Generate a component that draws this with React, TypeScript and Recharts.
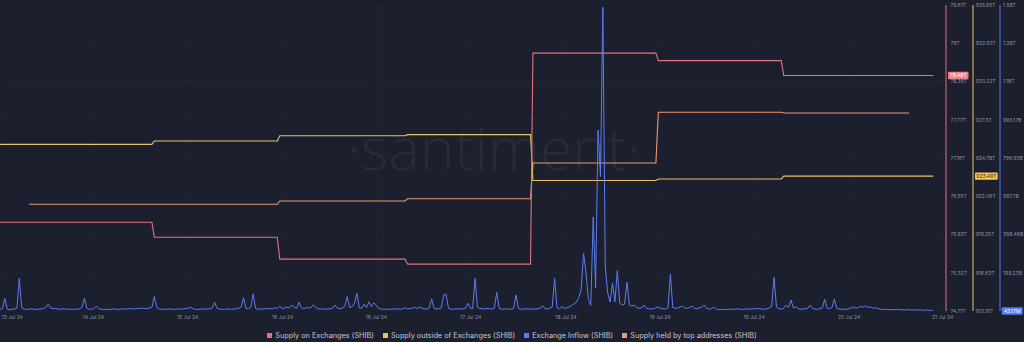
import React from 'react';
import { LineChart, Line, XAxis, YAxis, CartesianGrid, Legend, ReferenceLine } from 'recharts';

// ---------- data ----------
const X_TICK_LABELS = ['13 Jul 24', '14 Jul 24', '15 Jul 24', '16 Jul 24', '16 Jul 24', '17 Jul 24', '18 Jul 24', '19 Jul 24', '19 Jul 24', '20 Jul 24', '21 Jul 24'];
const X_TICKS = [0, 38.7, 77.8, 117.2, 156.1, 195.2, 234.7, 273.7, 312.7, 352.1, 390.9];
const X_MAX = 392.3;

const ON_EX_TICK_LABELS = ['74.71T', '75.32T', '75.93T', '76.55T', '77.16T', '77.77T', '78.39T', '79T', '79.61T'];
const ON_EX_DOMAIN = [74.71, 79.61];
const OUTSIDE_TICK_LABELS = ['913.91T', '916.63T', '919.35T', '922.06T', '924.78T', '927.5T', '930.22T', '932.93T', '935.65T'];
const OUTSIDE_DOMAIN = [913.91, 935.65];
const INFLOW_TICK_LABELS = ['', '199.23B', '398.46B', '597.7B', '796.93B', '995.17B', '1.18T', '1.38T', '1.58T'];
const INFLOW_DOMAIN = [0, 1594];
const TOP_DOMAIN = [500, 530.6];

// step series: first sample index of each level
const STEP_STARTS = [0, 64, 116, 169, 221, 273, 325];
const SUPPLY_ON_EXCHANGES = [76.13, 75.89, 75.54, 75.46, 78.84, 78.72, 78.48];
const SUPPLY_OUTSIDE = [925.75, 925.99, 926.36, 926.44, 923.18, 923.29, 923.49];
const TOP_STARTS = [12, 116, 169, 221, 273, 325];
const TOP_HOLDERS = [510.67, 511.0, 511.23, 514.8, 519.87, 519.8];
const TOP_END = 377;

// exchange inflow, billions SHIB
const EXCHANGE_INFLOW = [
  8, 12, 66, 10, 7, 9, 11, 14, 170, 16, 10, 8, 9, 12, 10, 8, 9, 11, 13, 18,
  35, 16, 12, 14, 10, 9, 12, 11, 8, 10, 9, 8, 10, 12, 18, 66, 14, 9, 10, 13,
  26, 12, 9, 8, 10, 7, 9, 11, 10, 8, 9, 12, 10, 11, 13, 12, 10, 14, 12, 16,
  13, 12, 15, 20, 75, 18, 10, 9, 8, 10, 12, 9, 8, 10, 9, 11, 10, 12, 14, 19,
  12, 9, 8, 10, 9, 11, 10, 12, 16, 45, 14, 10, 9, 8, 10, 11, 9, 10, 12, 14,
  20, 69, 14, 12, 18, 89, 12, 10, 11, 9, 12, 14, 10, 13, 16, 14, 26, 12, 15, 20,
  16, 31, 18, 14, 45, 16, 12, 18, 14, 20, 32, 18, 12, 10, 11, 9, 10, 12, 15, 31,
  14, 12, 16, 24, 75, 18, 22, 40, 92, 16, 14, 35, 18, 48, 22, 43, 30, 14, 10, 9,
  10, 8, 9, 11, 10, 12, 9, 11, 17, 10, 12, 14, 20, 12, 22, 14, 12, 10, 16, 63,
  14, 10, 12, 16, 83, 87, 14, 10, 9, 11, 10, 12, 10, 14, 40, 16, 12, 170, 18, 14,
  12, 10, 14, 12, 10, 16, 97, 14, 10, 9, 12, 10, 9, 14, 83, 12, 9, 10, 12, 10,
  9, 11, 10, 12, 14, 28, 12, 10, 14, 20, 170, 16, 12, 23, 14, 16, 21, 28, 36, 45,
  70, 110, 302, 200, 60, 30, 490, 120, 943, 700, 1582, 230, 94, 47, 146, 47, 210, 42, 31, 36,
  150, 31, 26, 31, 18, 14, 16, 31, 14, 12, 10, 12, 16, 22, 14, 12, 10, 16, 193, 18,
  14, 16, 20, 25, 16, 14, 18, 26, 14, 12, 16, 20, 31, 14, 10, 12, 20, 10, 8, 9,
  7, 8, 10, 9, 8, 10, 12, 9, 8, 10, 11, 9, 12, 10, 14, 12, 10, 9, 12, 16,
  22, 176, 20, 12, 10, 14, 31, 18, 57, 16, 22, 12, 10, 9, 12, 14, 31, 12, 10, 9,
  12, 16, 61, 14, 12, 18, 63, 14, 10, 9, 8, 10, 12, 16, 22, 14, 18, 24, 20, 26,
  18, 22, 14, 18, 12, 10, 8, 9, 7, 8, 6, 7, 8, 6, 7, 5, 6, 7, 5, 6,
  5, 6, 5, 4, 5, 4, 3, 0.04317,
];

const LEGEND_NAMES = ['Supply on Exchanges (SHIB)', 'Supply outside of Exchanges (SHIB)', 'Exchange Inflow (SHIB)', 'Supply held by top addresses (SHIB)'];

// ---------- styles ----------
const BG = '#1c1f2e';
const RED = '#e5737e';
const YELLOW = '#e9c466';
const BLUE = '#5b7cf2';
const ORANGE = '#ec9a72';
const LEGEND_COLORS = [RED, YELLOW, BLUE, ORANGE];
const TICK_COLOR = '#8e92a4';
const FONT = 'Inter, "Noto Sans", sans-serif';

const levelAt = (starts: number[], levels: number[], j: number) => {
  let v = levels[0];
  for (let k = 0; k < starts.length; k++) if (j >= starts[k]) v = levels[k];
  return v;
};

const rows = EXCHANGE_INFLOW.map((v, j) => ({
  t: j,
  inflow: v,
  onEx: levelAt(STEP_STARTS, SUPPLY_ON_EXCHANGES, j),
  outside: levelAt(STEP_STARTS, SUPPLY_OUTSIDE, j),
  top: j >= TOP_STARTS[0] && j <= TOP_END ? levelAt(TOP_STARTS, TOP_HOLDERS, j) : null,
}));

const evenTicks = (d: number[], n: number) => Array.from({ length: n }, (_, i) => d[0] + (i * (d[1] - d[0])) / (n - 1));
const ON_EX_TICKS = evenTicks(ON_EX_DOMAIN, ON_EX_TICK_LABELS.length);
const OUTSIDE_TICKS = evenTicks(OUTSIDE_DOMAIN, OUTSIDE_TICK_LABELS.length);
const INFLOW_TICKS = evenTicks(INFLOW_DOMAIN, INFLOW_TICK_LABELS.length);

const nearestIndex = (arr: number[], v: number) => {
  let best = 0;
  for (let i = 1; i < arr.length; i++) if (Math.abs(arr[i] - v) < Math.abs(arr[best] - v)) best = i;
  return best;
};

const makeYTick = (ticks: number[], labels: string[], dx: number) => (props: any) => {
  const { x, y, payload } = props;
  const i = nearestIndex(ticks, payload.value);
  const label = labels[i];
  if (!label) return <g />;
  return (
    <text x={x + dx} y={y} dy={1.8} textAnchor="start" fontSize={5} fontFamily={FONT} fill={TICK_COLOR}>
      {label}
    </text>
  );
};

const XTick = (props: any) => {
  const { x, y, payload } = props;
  const i = nearestIndex(X_TICKS, payload.value);
  const first = i === 0;
  return (
    <text x={first ? x + 1.7 : x} y={y} dy={7.5} textAnchor={first ? 'start' : 'middle'} fontSize={5} fontFamily={FONT} fill={TICK_COLOR}>
      {X_TICK_LABELS[i]}
    </text>
  );
};

const makeBadge = (text: string, bg: string, fg: string, offsetX: number, w: number) => (props: any) => {
  const vb = props.viewBox || { x: 0, y: 0, width: 946 };
  const x = vb.x + vb.width + offsetX;
  const y = vb.y;
  return (
    <g>
      <rect x={x} y={y - 3.7} width={w} height={7.4} rx={1} fill={bg} />
      <text x={x + w / 2} y={y} dy={1.8} textAnchor="middle" fontSize={5} fontFamily={FONT} fill={fg}>
        {text}
      </text>
    </g>
  );
};

const LegendContent = () => (
  <div
    style={{
      display: 'flex',
      justifyContent: 'center',
      gap: 9,
      paddingTop: 4,
      height: 13,
      lineHeight: '13px',
      fontFamily: FONT,
      fontSize: 7.3,
      color: '#c6c9d3',
      whiteSpace: 'nowrap',
    }}
  >
    {LEGEND_NAMES.map((name, i) => (
      <span key={name} style={{ display: 'flex', alignItems: 'center' }}>
        <span style={{ width: 5, height: 5, background: LEGEND_COLORS[i], marginRight: 3, display: 'inline-block' }} />
        {name}
      </span>
    ))}
  </div>
);

export default function App() {
  return (
    <div style={{ position: 'absolute', left: 0, top: 0, width: 1024, height: 342, background: BG, overflow: 'hidden' }}>
      <svg width={1024} height={342} style={{ position: 'absolute', left: 0, top: 0 }}>
        <text x={494} y={170} textAnchor="middle" fontFamily='"Open Sans", sans-serif' fontWeight={300} fontSize={59} fill="rgba(255,255,255,0.055)">
          ·santiment·
        </text>
      </svg>
      <div style={{ position: 'absolute', left: 0, top: 0 }}>
        <LineChart width={1024} height={342} data={rows} margin={{ top: 5, right: 0, bottom: 0, left: 0 }}>
          <CartesianGrid yAxisId="a_red" stroke="#232637" strokeWidth={0.6} />
          <XAxis
            dataKey="t"
            type="number"
            domain={[0, X_MAX]}
            ticks={X_TICKS}
            interval={0}
            allowDataOverflow
            axisLine={false}
            tickLine={false}
            tickSize={0}
            tickMargin={0}
            height={14}
            tick={<XTick />}
          />
          <YAxis
            yAxisId="a_red"
            orientation="right"
            domain={ON_EX_DOMAIN}
            ticks={ON_EX_TICKS}
            interval={0}
            allowDataOverflow
            width={27}
            axisLine={{ stroke: RED, strokeWidth: 1 }}
            tickLine={false}
            tickSize={0}
            tickMargin={0}
            tick={makeYTick(ON_EX_TICKS, ON_EX_TICK_LABELS, 4.5)}
          />
          <YAxis
            yAxisId="b_yellow"
            orientation="right"
            domain={OUTSIDE_DOMAIN}
            ticks={OUTSIDE_TICKS}
            interval={0}
            allowDataOverflow
            width={27}
            axisLine={{ stroke: YELLOW, strokeWidth: 1 }}
            tickLine={false}
            tickSize={0}
            tickMargin={0}
            tick={makeYTick(OUTSIDE_TICKS, OUTSIDE_TICK_LABELS, 2.7)}
          />
          <YAxis
            yAxisId="c_blue"
            orientation="right"
            domain={INFLOW_DOMAIN}
            ticks={INFLOW_TICKS}
            interval={0}
            allowDataOverflow
            width={24}
            axisLine={{ stroke: BLUE, strokeWidth: 1 }}
            tickLine={false}
            tickSize={0}
            tickMargin={0}
            tick={makeYTick(INFLOW_TICKS, INFLOW_TICK_LABELS, 3)}
          />
          <YAxis yAxisId="d_top" hide domain={TOP_DOMAIN} allowDataOverflow />
          <Legend verticalAlign="bottom" align="center" height={17} content={() => <LegendContent />} />
          <Line yAxisId="d_top" dataKey="top" type="linear" stroke={ORANGE} strokeWidth={1.1} dot={false} activeDot={false} isAnimationActive={false} />
          <Line yAxisId="b_yellow" dataKey="outside" type="linear" stroke={YELLOW} strokeWidth={1.1} dot={false} activeDot={false} isAnimationActive={false} />
          <Line yAxisId="a_red" dataKey="onEx" type="linear" stroke={RED} strokeWidth={1.1} dot={false} activeDot={false} isAnimationActive={false} />
          <Line yAxisId="c_blue" dataKey="inflow" type="linear" stroke={BLUE} strokeWidth={1} dot={false} activeDot={false} isAnimationActive={false} />
          <ReferenceLine yAxisId="a_red" y={78.48} stroke="none" label={makeBadge('78.48T', '#ef7f86', '#ffffff', 2, 20.5)} />
          <ReferenceLine yAxisId="b_yellow" y={923.49} stroke="none" label={makeBadge('923.49T', '#f2c94c', '#2a2a2a', 29, 22.7)} />
          <ReferenceLine yAxisId="c_blue" y={0.04317} stroke="none" label={makeBadge('43.17M', '#5b7cf5', '#ffffff', 55.7, 21)} />
        </LineChart>
      </div>
    </div>
  );
}
